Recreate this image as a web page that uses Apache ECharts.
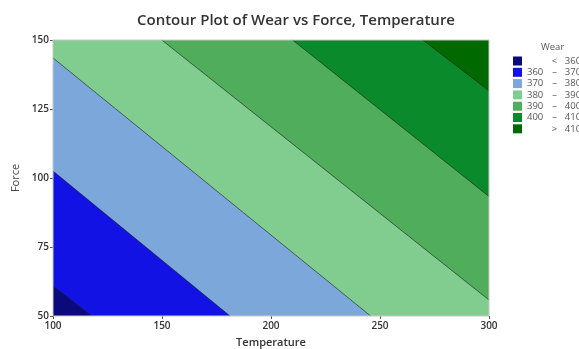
<!DOCTYPE html>
<html>
<head>
<meta charset="utf-8">
<script src="https://cdn.jsdelivr.net/npm/echarts@6/dist/echarts.min.js"></script>
<style>html,body{margin:0;padding:0;background:#fff;}#c{width:579px;height:349px;}</style>
</head>
<body>
<div id="c"></div>
<script>
// ---- Data ----
const temperatureRange = [100, 300];
const forceRange = [50, 150];
const temperatureTicks = [100, 150, 200, 250, 300];
const forceTicks = [50, 75, 100, 125, 150];
const wearLevels = [360, 370, 380, 390, 400, 410];
// where each contour line enters (left/top edge) and leaves (bottom/right edge): [Temperature, Force]
const contourStart = [[100, 60.9], [100, 102.5], [100, 143.5], [149.9, 150], [209.9, 150], [269.7, 150]];
const contourEnd = [[117.7, 50], [181.2, 50], [245.7, 50], [300, 55.8], [300, 93.3], [300, 131.6]];
const legendLabels = ['<|360', '360|370', '370|380', '380|390', '390|400', '400|410', '>|410'];

// ---- Styles ----
const bandColors = ['#0a0a7c', '#1212e4', '#7ca7db', '#80cd8f', '#4fad5b', '#0a8a2b', '#006900'];

const tMin = temperatureRange[0], tMax = temperatureRange[1];
const fMin = forceRange[0], fMax = forceRange[1];

// polygon of region "Wear below level k" (lower-left of contour k)
function belowPolygon(k) {
  const p1 = contourStart[k], p2 = contourEnd[k];
  const pts = [p1, p2];
  if (p2[0] === tMax) pts.push([tMax, fMin]);
  pts.push([tMin, fMin]);
  if (p1[1] === fMax) pts.push([tMin, fMax]);
  return pts;
}

const series = [];
for (let b = bandColors.length - 1; b >= 0; b--) {
  const idx = b;
  series.push({
    name: legendLabels[idx],
    type: 'custom',
    coordinateSystem: 'cartesian2d',
    itemStyle: { color: bandColors[idx] },
    data: [[idx]],
    z: 2 + (bandColors.length - idx),
    renderItem: function (params, api) {
      let poly;
      if (idx === bandColors.length - 1) {
        poly = [[tMin, fMin], [tMax, fMin], [tMax, fMax], [tMin, fMax]];
      } else {
        poly = belowPolygon(idx);
      }
      return {
        type: 'polygon',
        shape: { points: poly.map(p => api.coord(p)) },
        style: { fill: bandColors[idx], stroke: null },
        silent: true
      };
    }
  });
}
// contour lines
series.push({
  name: 'contours',
  type: 'custom',
  coordinateSystem: 'cartesian2d',
  data: wearLevels.map((w, i) => [i]),
  z: 20,
  silent: true,
  renderItem: function (params, api) {
    const i = params.dataIndex;
    const a = api.coord(contourStart[i]), b = api.coord(contourEnd[i]);
    return {
      type: 'line',
      shape: { x1: a[0], y1: a[1], x2: b[0], y2: b[1] },
      style: { stroke: 'rgba(20,30,20,0.75)', lineWidth: 0.8 }
    };
  }
});

const chart = echarts.init(document.getElementById('c'), null, { renderer: 'canvas' });
const fontFam = '"Open Sans", "Noto Sans", sans-serif';
chart.setOption({
  animation: false,
  title: {
    text: 'Contour Plot of Wear vs Force, Temperature',
    left: 291, top: 8, textAlign: 'center',
    textStyle: { fontFamily: fontFam, fontSize: 15, fontWeight: 600, color: '#333' }
  },
  grid: { left: 53, right: 90, top: 40, bottom: 33, containLabel: false, outerBoundsMode: 'none',
    show: true, borderColor: '#c8c8c8', borderWidth: 1, backgroundColor: 'transparent', z: 30 },
  xAxis: {
    type: 'value', min: tMin, max: tMax, interval: 50,
    name: 'Temperature', nameLocation: 'middle', nameGap: 21,
    nameTextStyle: { fontFamily: fontFam, fontSize: 11, color: '#333', fontWeight: 600 },
    axisLine: { show: false },
    axisTick: { show: true, length: 3, lineStyle: { color: '#555' } },
    splitLine: { show: false },
    axisLabel: { fontFamily: fontFam, fontSize: 10, color: '#333', fontWeight: 600, margin: 5,
      formatter: v => temperatureTicks.indexOf(v) >= 0 ? String(v) : '' }
  },
  yAxis: {
    type: 'value', min: fMin, max: fMax, interval: 25,
    name: 'Force', nameLocation: 'middle', nameGap: 32, nameRotate: 90,
    nameTextStyle: { fontFamily: fontFam, fontSize: 11, color: '#444' },
    axisLine: { show: false },
    axisTick: { show: true, length: 3, lineStyle: { color: '#555' } },
    splitLine: { show: false },
    axisLabel: { fontFamily: fontFam, fontSize: 10, color: '#333', fontWeight: 600, margin: 4,
      formatter: v => forceTicks.indexOf(v) >= 0 ? String(v) : '' }
  },
  legend: {
    data: legendLabels,
    orient: 'vertical', left: 508, top: 51,
    icon: 'rect', itemWidth: 9, itemHeight: 9, itemGap: 1.3,
    selectedMode: false,
    formatter: function (name) {
      const parts = name.split('|');
      if (parts[0] === '<' || parts[0] === '>') return '{a|}{s|' + parts[0] + '}{b|' + parts[1] + '}';
      return '{a|' + parts[0] + '}{s|–}{b|' + parts[1] + '}';
    },
    textStyle: {
      fontFamily: fontFam, fontSize: 9.5, color: '#555',
      rich: {
        a: { width: 18, align: 'left', fontFamily: fontFam, fontSize: 9.5, color: '#555' },
        s: { width: 19, align: 'center', fontFamily: fontFam, fontSize: 9.5, color: '#555' },
        b: { width: 18, align: 'left', fontFamily: fontFam, fontSize: 9.5, color: '#555' }
      }
    }
  },
  graphic: [{
    type: 'text', left: 541, top: 42,
    style: { text: 'Wear', fontFamily: fontFam, fontSize: 9.5, fill: '#555' }
  }],
  series: series
});
</script>
</body>
</html>
